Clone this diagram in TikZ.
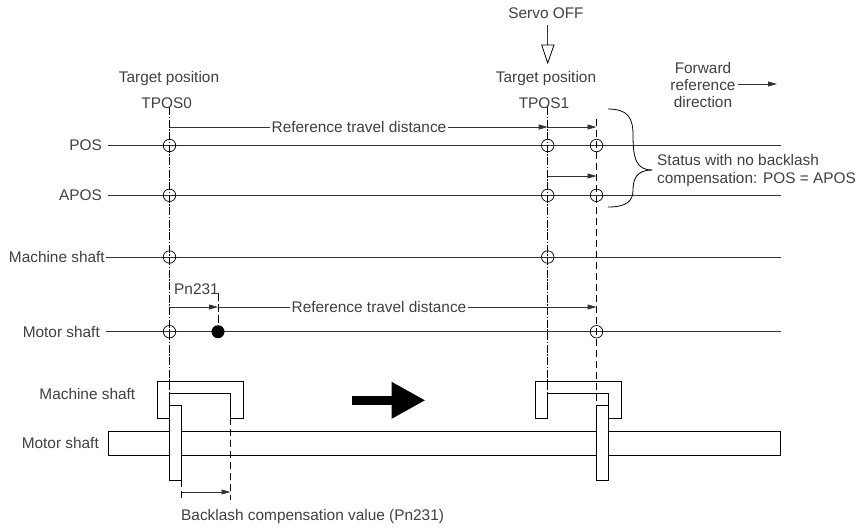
\documentclass[tikz,border=0pt]{standalone}
\usepackage{fontspec}
\setmainfont{Liberation Sans}
\usepackage{xcolor}
\usepackage{tikz}
\usetikzlibrary{arrows.meta,positioning}
\definecolor{inkgray}{gray}{0.2}
\definecolor{textgray}{gray}{0.25}
\tikzset{
  rail/.style={draw=inkgray,line width=0.8pt},
  ring/.style={circle,draw=black,line width=0.7pt,minimum size=12.5pt,inner sep=0pt},
  dot/.style={circle,fill=black,minimum size=13pt,inner sep=0pt},
  lab/.style={font=\fontsize{15.4}{17}\selectfont,text=textgray,inner sep=0pt},
  travel/.style={draw=inkgray,line width=0.8pt,-{Triangle[length=9pt,width=5pt]}},
  axisline/.style={draw=black,line width=0.7pt,dash pattern=on 8pt off 1.5pt on 1.5pt off 1.5pt},
  dashline/.style={draw=black,line width=0.8pt,dash pattern=on 7pt off 4pt},
  part/.style={draw=black,line width=0.8pt,fill=white}
}
\begin{document}
\begin{tikzpicture}[x=1pt,y=-1pt,line join=miter]
  \useasboundingbox (0,0) rectangle (858,528);
  \coordinate (t0) at (169.5,107);
  \coordinate (t1) at (547.7,107);
  % horizontal signal lines
  \foreach \name/\txt/\y/\x/\gap in {pos/POS/145.5/102/6,apos/APOS/195.3/102/6,mach/Machine shaft/257/105/1,mot/Motor shaft/331.7/100/6}{
    \node[lab,anchor=east] (\name) at (\x,\y) {\txt};
    \coordinate (\name-end) at (781,\y);
    \draw[rail] (\name.east) ++(\gap,0) -- (\name-end);
  }
  % shaft drawing
  \node[part,anchor=north west,minimum width=672pt,minimum height=24.5pt,inner sep=0pt] (bar) at (108,430.5) {};
  \foreach \sx/\id in {0/a,378.2/b}{
    \begin{scope}[xshift=\sx]
      \draw[part] (169.5,418) -- (157,418) -- (157,381) -- (243,381) -- (243,418)
        -- (230.5,418) coordinate (\id-out) -- (230.5,393.5) -- (169.5,393.5) -- cycle;
    \end{scope}
  }
  \foreach \sx/\id in {0/a,427/b}{
    \begin{scope}[xshift=\sx]
      \draw[part] (169.5,405.8) rectangle (181.7,480);
      \coordinate (\id-top) at (169.5,405.8);
      \coordinate (\id-low) at (181.7,480);
    \end{scope}
  }
  % axes through the positions
  \draw[axisline] (t0) -- (169.5,480);
  \draw[axisline] (t1) -- (547.7,418);
  \coordinate (d1) at (596.5,119);
  \draw[dashline] (d1) -- (b-top);
  \coordinate (d2) at (218,293);
  \coordinate (d3) at (218,326);
  \draw[dashline,dash pattern=on 8pt off 3pt] (d2) -- (d3);
  \coordinate (b1) at (181.7,500);
  \coordinate (b2) at (230.5,500);
  \draw[dashline] (a-low) -- (b1);
  \draw[dashline] (a-out) -- (b2);
  % markers
  \foreach \name/\x/\y in {r1/169.5/145.5,r2/547.7/145.5,r3/596.5/145.5,r4/169.5/195.3,r5/547.7/195.3,r6/596.5/195.3,r7/169.5/257,r8/547.7/257,r9/169.5/331.7,r10/596.5/331.7}
    \node[ring] (\name) at (\x,\y) {};
  \node[dot] (hit) at (218,331.7) {};
  % travel arrows
  \coordinate (a0) at (169.5,127);
  \coordinate (a1) at (547.7,127);
  \coordinate (a2) at (596.5,127);
  \node[lab,fill=white,inner xsep=1pt] (ref1) at (359,127) {Reference travel distance};
  \draw[rail] (a0) -- (ref1);
  \draw[travel] (ref1) -- (a1);
  \draw[travel] (a1) -- (a2);
  \coordinate (a3) at (547.7,176);
  \coordinate (a4) at (596.5,176);
  \draw[travel] (a3) -- (a4);
  \coordinate (c0) at (169.5,307);
  \coordinate (c1) at (218,307);
  \coordinate (c2) at (596.5,307);
  \draw[travel] (c0) -- (c1);
  \node[lab,fill=white,inner xsep=1pt] (ref2) at (379,307) {Reference travel distance};
  \draw[rail] (c1) -- (ref2);
  \draw[travel] (ref2) -- (c2);
  \node[lab,anchor=west] (pn) at (174,289) {Pn231};
  % backlash value
  \coordinate (e0) at (181.7,492);
  \coordinate (e1) at (230.5,492);
  \draw[travel] (e0) -- (e1);
  \node[lab,anchor=west] (blash) at (181,517) {Backlash compensation value (Pn231)};
  % top labels
  \node[lab] (tp0) at (169,79) {Target position};
  \node[lab] (tn0) at (166.7,102.7) {TPOS0};
  \node[lab] (tp1) at (546,79) {Target position};
  \node[lab] (tn1) at (544,102.7) {TPOS1};
  \node[lab] (servo) at (546,13.5) {Servo OFF};
  \coordinate (s0) at (547.7,25);
  \coordinate (s1) at (547.7,45);
  \draw[rail] (s0) -- (s1);
  \draw[part] (541.7,45) -- (554,45) -- (547.7,63) -- cycle;
  \node[lab,align=center] (fwd) at (703,85) {Forward\\reference\\direction};
  \coordinate (f0) at (738,84);
  \coordinate (f1) at (777,84);
  \draw[travel] (f0) -- (f1);
  % status brace
  \coordinate (br0) at (608,109);
  \coordinate (br1) at (608,207);
  \coordinate (br2) at (652,170);
  \draw[draw=black,line width=0.8pt] (br0) .. controls (628,109) and (633,118) .. (633,135)
    .. controls (633,158) and (636,170) .. (br2);
  \draw[draw=black,line width=0.8pt] (br2) .. controls (636,170) and (633,180) .. (633,190)
    .. controls (633,200) and (628,207) .. (br1);
  \node[lab,anchor=west,align=left,font=\fontsize{15.4}{17.5}\selectfont] (status) at (657,170.5) {Status with no backlash\\compensation: POS = APOS};
  % big arrow
  \node[lab,anchor=east] (mach2) at (135.5,393.5) {Machine shaft};
  \node[lab,anchor=east] (mot2) at (99,443) {Motor shaft};
  \coordinate (big0) at (352,400.3);
  \coordinate (big1) at (425.5,400.3);
  \draw[line width=8.5pt,draw=black,-{Triangle[length=34pt,width=34.5pt]}] (big0) -- (big1);
\end{tikzpicture}
\end{document}
